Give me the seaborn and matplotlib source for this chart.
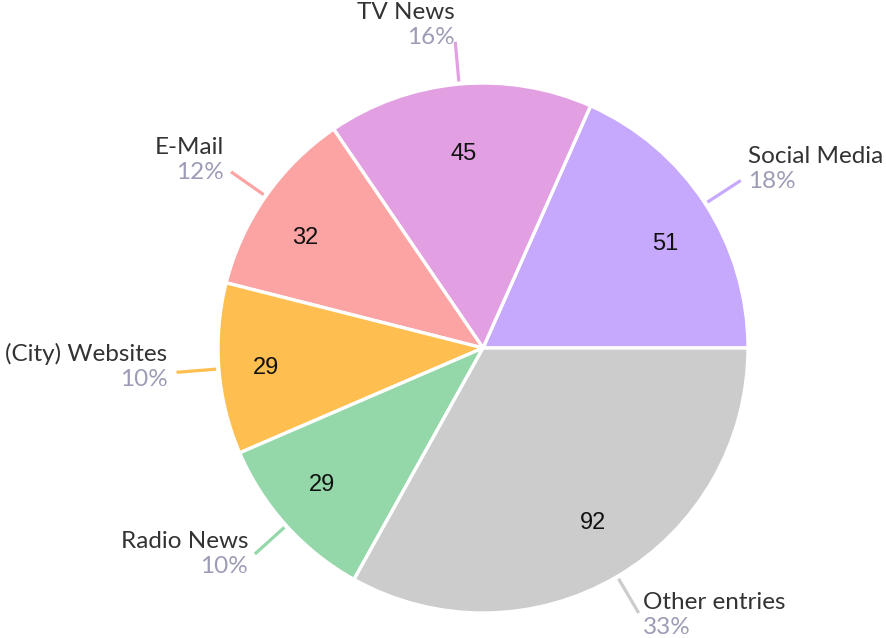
import numpy as np
import matplotlib
matplotlib.use("Agg")
import matplotlib.pyplot as plt
import seaborn as sns

# Survey responses: where people get their news
categories = ["Social Media", "TV News", "E-Mail", "(City) Websites", "Radio News", "Other entries"]
values = [51, 45, 32, 29, 29, 92]
colors = ["#c6a9fd", "#e2a0e3", "#fca3a3", "#febf50", "#94d8aa", "#cccccc"]

sns.set_theme(style="white")
plt.rcParams["font.family"] = ["Lato", "DejaVu Sans"]

W, H = 886, 638
fig = plt.figure(figsize=(W / 100, H / 100), dpi=100)
ax = fig.add_axes([0, 0, 1, 1])

# pixel geometry of the pie (centre and radius) -> data units of radius 1
cx, cy, R = 483, 348, 265
px = 1.0 / R

wedges, _ = ax.pie(
    values,
    colors=colors,
    startangle=0,
    counterclock=True,
    radius=1.0,
    wedgeprops=dict(edgecolor="white", linewidth=2.4),
)

total = float(sum(values))
for w, name, v, col in zip(wedges, categories, values, colors):
    mid = np.deg2rad((w.theta1 + w.theta2) / 2.0)
    c, s = np.cos(mid), np.sin(mid)

    # value inside the slice
    ax.text(0.82 * c, 0.75 * s - 4 * px, f"{v}", ha="center", va="center",
            fontsize=17, color="#111111", family=["Liberation Sans", "DejaVu Sans"])

    # leader line
    r0, r1 = 1.01, 1.16
    ax.plot([r0 * c, r1 * c], [r0 * s, r1 * s], color=col, lw=2.3,
            solid_capstyle="butt", zorder=1)

    # outside label: name above the share
    ex, ey = r1 * c, r1 * s
    ha = "left" if c > 0 else "right"
    gap = 9 * abs(c) * px * (1 if c > 0 else -1)
    pct_y = ey - (6 - 10 * s) * px
    name_y = pct_y + 25 * px
    ax.text(ex + gap, name_y, name, ha=ha, va="center", fontsize=17.5, color="#333333")
    ax.text(ex + gap, pct_y, f"{v / total:.0%}", ha=ha, va="center",
            fontsize=17.5, color="#9c9cb6")

ax.set_xlim(-cx * px, (W - cx) * px)
ax.set_ylim(-(H - cy) * px, cy * px)
ax.set_aspect("auto")
ax.axis("off")

fig.savefig("out.png", dpi=100, facecolor="white")
